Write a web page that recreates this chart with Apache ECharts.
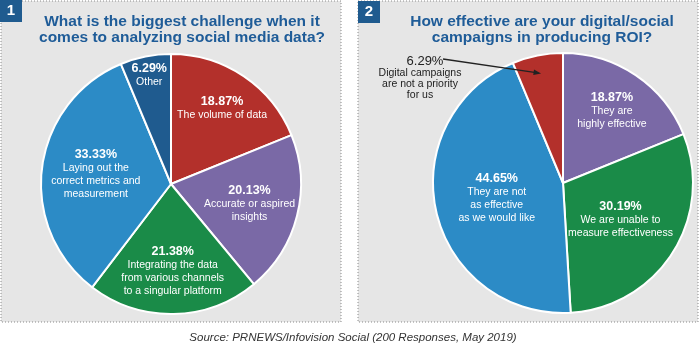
<!DOCTYPE html>
<html>
<head>
<meta charset="utf-8">
<script src="https://cdn.jsdelivr.net/npm/echarts@6/dist/echarts.min.js"></script>
<style>
  html, body { margin: 0; padding: 0; background: #fff; }
  #chart { width: 700px; height: 353px; }
</style>
</head>
<body>
<div id="chart"></div>
<script>
// chart 1: biggest challenge
var names1 = ['The volume of data', 'Accurate or aspired\ninsights', 'Integrating the data\nfrom various channels\nto a singular platform', 'Laying out the\ncorrect metrics and\nmeasurement', 'Other']
var values1 = [18.87, 20.13, 21.38, 33.33, 6.29]
var colors1 = ['#b3302b', '#7a69a6', '#1a8b48', '#2c8bc6', '#1f5b8f']
// chart 2: effectiveness
var names2 = ['They are\nhighly effective', 'We are unable to\nmeasure effectiveness', 'They are not\nas effective\nas we would like', 'Digital campaigns\nare not a priority\nfor us']
var values2 = [18.87, 30.19, 44.65, 6.29]
var colors2 = ['#7a69a6', '#1a8b48', '#2c8bc6', '#b3302b']

var titleColor = '#1f5c98'
var R = 130
var center1 = [171, 184]
var center2 = [563, 183]
// how far out (fraction of radius) each inside label sits
var labelK1 = [0.68, 0.6, 0.65, 0.56, 0.83]
var labelK2 = [0.65, 0.5, 0.5, 0.5]

function midAngle (values, i) {
  var total = values.reduce(function (a, b) { return a + b }, 0)
  var before = 0
  for (var j = 0; j < i; j++) before += values[j]
  return (before + values[i] / 2) / total * Math.PI * 2
}

function makeData (names, values, colors) {
  return values.map(function (v, i) {
    return { name: names[i], value: v, itemStyle: { color: colors[i] } }
  })
}

function pieSeries (names, values, colors, center, ks, hideIdx) {
  var data = makeData(names, values, colors)
  if (hideIdx != null) data[hideIdx].label = { show: false }
  return {
    type: 'pie',
    radius: [0, R],
    center: center,
    startAngle: 90,
    clockwise: true,
    animation: false,
    silent: true,
    itemStyle: { borderColor: '#fff', borderWidth: 2 },
    label: {
      show: true,
      position: 'inside',
      color: '#fff',
      lineHeight: 13,
      formatter: function (p) {
        return '{p|' + p.value.toFixed(2) + '%}\n{t|' + p.name.split('\n').join('}\n{t|') + '}'
      },
      rich: {
        p: { fontFamily: 'Liberation Sans', fontWeight: 'bold', fontSize: 12.5, color: '#fff', lineHeight: 14 },
        t: { fontFamily: 'Liberation Sans', fontSize: 10.5, color: '#fff', lineHeight: 13 }
      }
    },
    labelLine: { show: false },
    labelLayout: function (params) {
      var a = midAngle(values, params.dataIndex)
      var d = (ks[params.dataIndex] - 0.5) * R
      return { dx: d * Math.sin(a), dy: -d * Math.cos(a) }
    },
    data: data
  }
}

// arrow for the small slice of chart 2, pointing into it
var arrowA = midAngle(values2, 3)
var tip = [center2[0] + 0.86 * R * Math.sin(arrowA), center2[1] - 0.86 * R * Math.cos(arrowA)]
var tail = [center2[0] - 120, center2[1] - 124]
var ang = Math.atan2(tip[1] - tail[1], tip[0] - tail[0])
var head = 8
var headPts = [
  tip,
  [tip[0] - head * Math.cos(ang - 0.35), tip[1] - head * Math.sin(ang - 0.35)],
  [tip[0] - head * Math.cos(ang + 0.35), tip[1] - head * Math.sin(ang + 0.35)]
]

var myChart = echarts.init(document.getElementById('chart'))
var option = {
  backgroundColor: '#fff',
  title: [
    {
      text: 'What is the biggest challenge when it\ncomes to analyzing social media data?',
      left: 177, top: 9, textAlign: 'center',
      textStyle: { fontFamily: 'Liberation Sans', fontWeight: 'bold', fontSize: 15.5, color: titleColor, lineHeight: 16 }
    },
    {
      text: 'How effective are your digital/social\ncampaigns in producing ROI?',
      left: 537, top: 9, textAlign: 'center',
      textStyle: { fontFamily: 'Liberation Sans', fontWeight: 'bold', fontSize: 15.5, color: titleColor, lineHeight: 16 }
    },
    {
      text: 'Source: PRNEWS/Infovision Social (200 Responses, May 2019)',
      left: 348, top: 327, textAlign: 'center',
      textStyle: { fontFamily: 'Liberation Sans', fontStyle: 'italic', fontWeight: 'normal', fontSize: 11.5, color: '#333' }
    }
  ],
  graphic: [
    { type: 'rect', z: -10, shape: { x: 1, y: 1, width: 340, height: 321 }, style: { fill: '#e6e6e6', stroke: '#8a8a8a', lineWidth: 1, lineDash: [1, 2] } },
    { type: 'rect', z: -10, shape: { x: 358, y: 1, width: 340, height: 321 }, style: { fill: '#e6e6e6', stroke: '#8a8a8a', lineWidth: 1, lineDash: [1, 2] } },
    { type: 'rect', z: -5, shape: { x: 0, y: 0, width: 22, height: 22 }, style: { fill: '#1f5b8f' } },
    { type: 'rect', z: -5, shape: { x: 358, y: 1, width: 22, height: 22 }, style: { fill: '#1f5b8f' } },
    { type: 'text', x: 11, y: 11, style: { text: '1', fill: '#fff', font: 'bold 15px Liberation Sans', align: 'center', verticalAlign: 'middle' } },
    { type: 'text', x: 369, y: 12, style: { text: '2', fill: '#fff', font: 'bold 15px Liberation Sans', align: 'center', verticalAlign: 'middle' } },
    { type: 'text', z: 10, x: 425, y: 61, style: { text: values2[3].toFixed(2) + '%', fill: '#222', font: '13px Liberation Sans', align: 'center', verticalAlign: 'middle' } },
    { type: 'text', z: 10, x: 420, y: 84, style: { text: names2[3], fill: '#222', font: '10.5px Liberation Sans', align: 'center', verticalAlign: 'middle', lineHeight: 11 } },
    { type: 'line', z: 10, shape: { x1: tail[0], y1: tail[1], x2: tip[0] - 5 * Math.cos(ang), y2: tip[1] - 5 * Math.sin(ang) }, style: { stroke: '#222', lineWidth: 1.3 } },
    { type: 'polygon', z: 10, shape: { points: headPts }, style: { fill: '#222' } }
  ],
  series: [
    pieSeries(names1, values1, colors1, center1, labelK1, null),
    pieSeries(names2, values2, colors2, center2, labelK2, 3)
  ]
}
myChart.setOption(option)
</script>
</body>
</html>
